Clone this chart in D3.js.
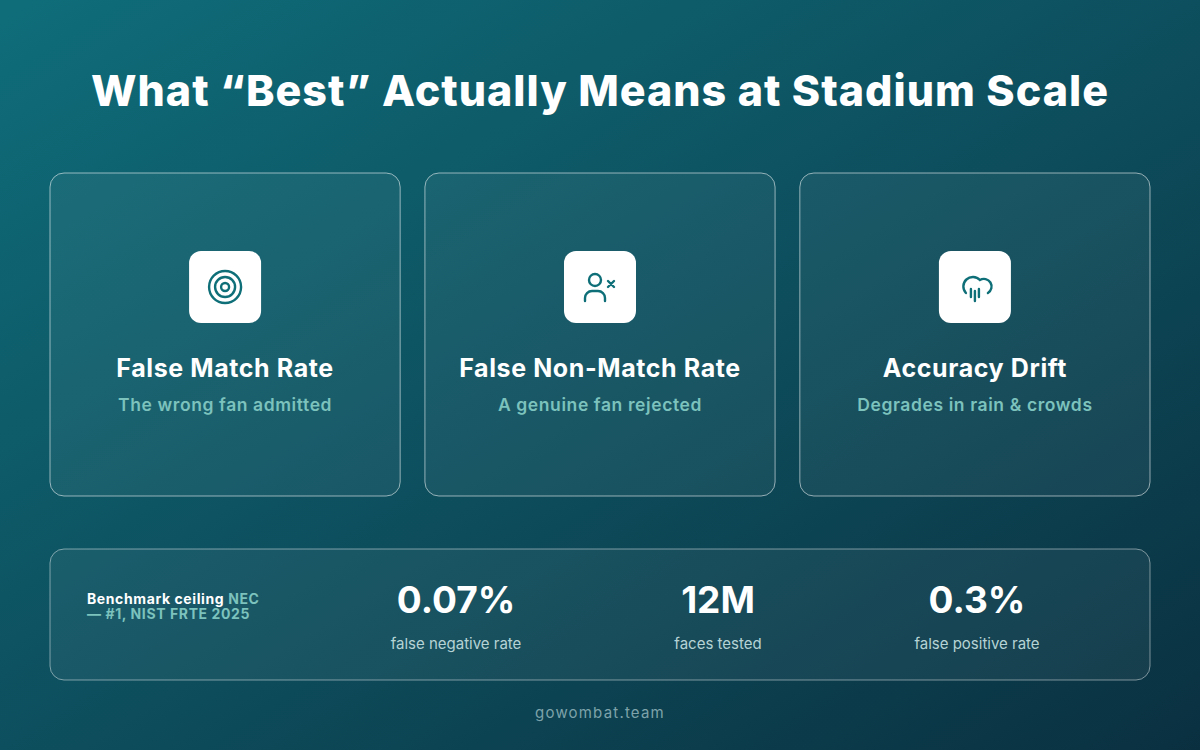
<!DOCTYPE html>
<html><head><meta charset="utf-8">
<script src="https://cdn.jsdelivr.net/npm/d3@7"></script>
<style>body{margin:0;overflow:hidden}svg{display:block}</style>
</head><body>
<script>
const cardTitles = ["False Match Rate","False Non-Match Rate","Accuracy Drift"];
const cardSubtitles = ["The wrong fan admitted","A genuine fan rejected","Degrades in rain & crowds"];
const cardIcons = ["target","userx","rain"];
const statValues = ["0.07%","12M","0.3%"];
const statLabels = ["false negative rate","faces tested","false positive rate"];

const W=1200,H=750, F="Inter, 'Open Sans', sans-serif";
const svg=d3.select("body").append("svg").attr("width",W).attr("height",H);
const defs=svg.append("defs");
const g=defs.append("linearGradient").attr("id","bg").attr("x1","0").attr("y1","0").attr("x2","1").attr("y2","1");
g.append("stop").attr("offset","0").attr("stop-color","#0f6d7a");
g.append("stop").attr("offset","0.55").attr("stop-color","#0d4c5b");
g.append("stop").attr("offset","1").attr("stop-color","#0a3040");
svg.append("rect").attr("width",W).attr("height",H).attr("fill","url(#bg)");

svg.append("text").attr("x",600).attr("y",106).attr("text-anchor","middle").attr("fill","#fff")
 .attr("font-family",F).attr("font-weight",800).attr("font-size",43).attr("letter-spacing",1)
 .text("What “Best” Actually Means at Stadium Scale");

const xc=d3.scaleBand().domain(d3.range(3)).range([50,1150]).paddingInner(0.066).paddingOuter(0);
const cards=svg.selectAll("g.card").data(cardTitles).join("g").attr("class","card")
 .attr("transform",(d,i)=>`translate(${xc(i)},173)`);
cards.append("rect").attr("width",xc.bandwidth()).attr("height",323).attr("rx",14)
 .attr("fill","rgba(255,255,255,0.05)").attr("stroke","rgba(255,255,255,0.55)").attr("stroke-width",1);
const cx=xc.bandwidth()/2;
cards.append("rect").attr("x",cx-36).attr("y",78).attr("width",72).attr("height",72).attr("rx",12).attr("fill","#fff");
cards.append("text").attr("x",cx).attr("y",204).attr("text-anchor","middle").attr("fill","#fff")
 .attr("font-family",F).attr("font-weight",700).attr("font-size",25).attr("letter-spacing",0.6).text(d=>d);
cards.append("text").attr("x",cx).attr("y",238).attr("text-anchor","middle").attr("fill","#7cc2bd")
 .attr("font-family",F).attr("font-weight",600).attr("font-size",17.5).attr("letter-spacing",0.6).text((d,i)=>cardSubtitles[i]);
const ic=cards.append("g").attr("transform",`translate(${cx},114)`)
 .attr("fill","none").attr("stroke","#0f6f78").attr("stroke-width",2.4).attr("stroke-linecap","round");
ic.each(function(d,i){
 const s=d3.select(this);
 if(cardIcons[i]==="target"){
  [16,10,4].forEach(r=>s.append("circle").attr("r",r));
 } else if(cardIcons[i]==="userx"){
  s.append("circle").attr("cx",-5).attr("cy",-7).attr("r",6);
  s.append("path").attr("d","M-15 14 v-3 a7 7 0 0 1 7 -7 h6 a7 7 0 0 1 7 7 v3");
  s.append("path").attr("d","M8 -6 l6 6 M14 -6 l-6 6");
 } else {
  s.append("path").attr("d","M-9 6 a9 9 0 1 1 14 -13 a7 7 0 0 1 8 13");
  s.append("path").attr("d","M-4 2 v8 M0 4 v10 M4 2 v8");
 }
});

svg.append("rect").attr("x",50).attr("y",549).attr("width",1100).attr("height",131).attr("rx",14)
 .attr("fill","rgba(255,255,255,0.05)").attr("stroke","rgba(255,255,255,0.45)");
const t1=svg.append("text").attr("x",87).attr("y",604).attr("font-family",F).attr("font-weight",700).attr("font-size",14).attr("letter-spacing",0.6).attr("fill","#fff");
t1.append("tspan").text("Benchmark ceiling ");
t1.append("tspan").attr("fill","#7cc2bd").text("NEC");
svg.append("text").attr("x",87).attr("y",619).attr("font-family",F).attr("font-weight",700).attr("font-size",14).attr("letter-spacing",0.6).attr("fill","#7cc2bd").text("— #1, NIST FRTE 2025");

const xsPos=[456,718,977];
const st=svg.selectAll("g.stat").data(statValues).join("g").attr("transform",(d,i)=>`translate(${xsPos[i]},0)`);
st.append("text").attr("y",613).attr("text-anchor","middle").attr("fill","#fff").attr("font-family",F)
 .attr("font-weight",700).attr("font-size",37).text(d=>d);
st.append("text").attr("y",649).attr("text-anchor","middle").attr("fill","#b5d3d5").attr("font-family",F)
 .attr("font-size",15).text((d,i)=>statLabels[i]);

svg.append("text").attr("x",600).attr("y",718).attr("text-anchor","middle").attr("fill","#7ea3aa")
 .attr("font-family",F).attr("font-size",15).attr("letter-spacing",1.2).text("gowombat.team");
</script>
</body></html>
